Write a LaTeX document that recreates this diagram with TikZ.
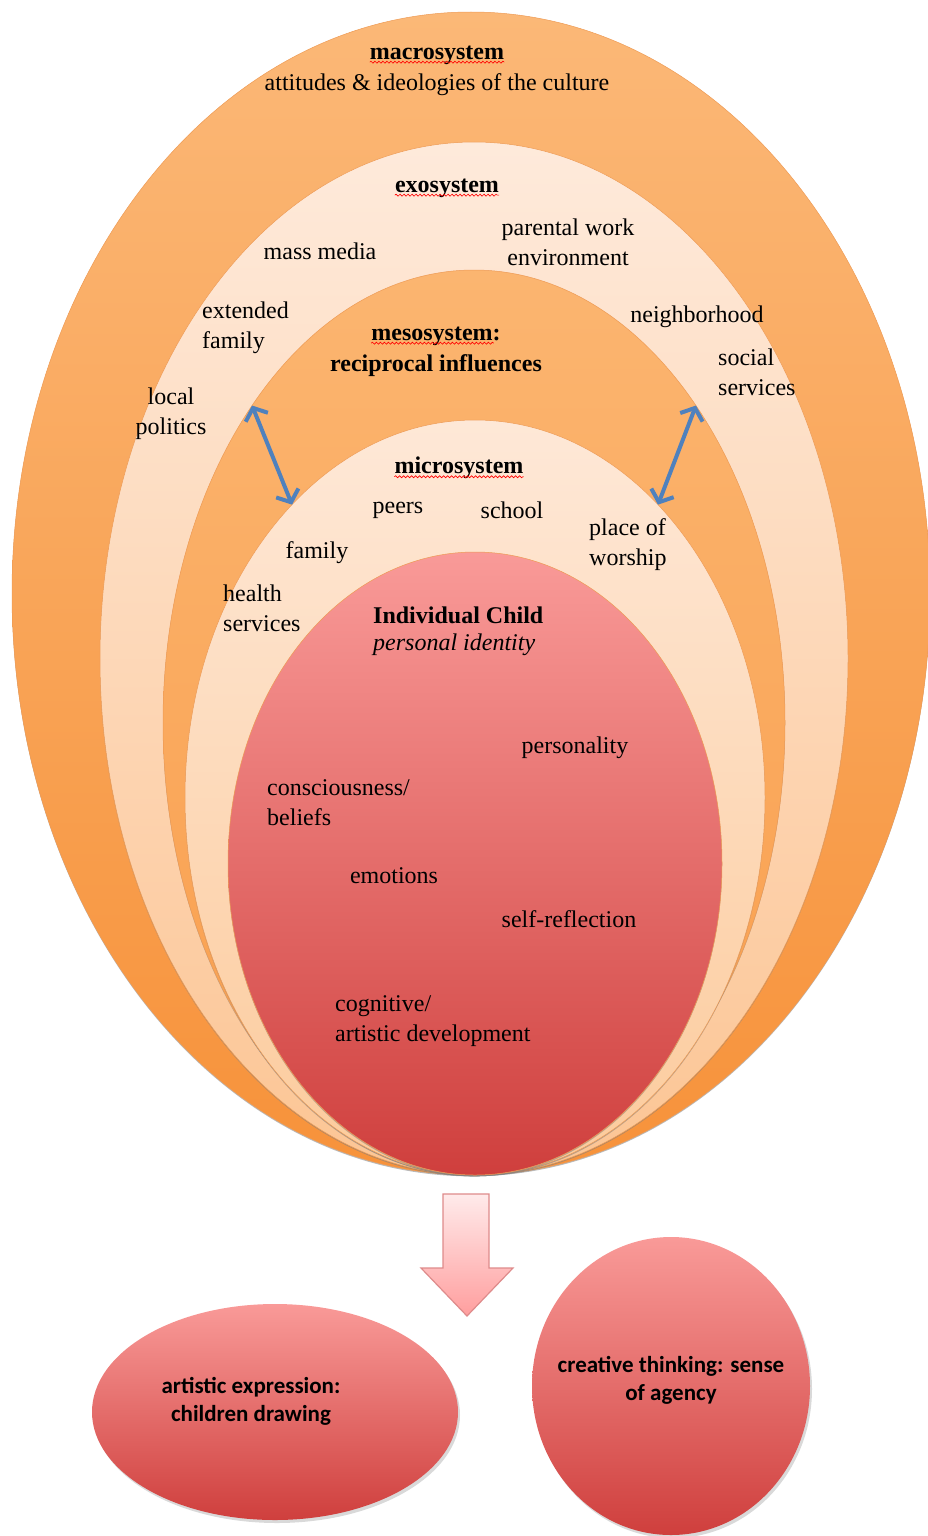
\documentclass[tikz,border=0pt]{standalone}
\usepackage{fontspec}
\setmainfont{Liberation Serif}
\newfontfamily\calib{Carlito}
\usetikzlibrary{shapes.geometric,arrows.meta,shadows,decorations.pathmorphing}
\definecolor{macroTop}{HTML}{FBB877}
\definecolor{macroBot}{HTML}{F7923A}
\definecolor{exoTop}{HTML}{FEEADB}
\definecolor{exoBot}{HTML}{FCC594}
\definecolor{mesoTop}{HTML}{FBB570}
\definecolor{mesoBot}{HTML}{F99E4C}
\definecolor{microTop}{HTML}{FEE8D7}
\definecolor{microBot}{HTML}{FCCB9C}
\definecolor{childTop}{HTML}{F99A98}
\definecolor{childBot}{HTML}{CF3F3D}
\definecolor{bandEdge}{HTML}{EE9B55}
\definecolor{linkBlue}{HTML}{4F81BD}
\definecolor{flowEdge}{HTML}{DE8B8B}
\begin{document}
\begin{tikzpicture}[x=1pt,y=-1pt,
        band/.style={ellipse,draw=bandEdge,line width=0.5pt,inner sep=0pt,outer sep=0pt,
          drop shadow={shadow xshift=0pt,shadow yshift=-1.3pt,opacity=0.55}},
        lbl/.style={font=\fontsize{24}{30}\selectfont,inner sep=0pt},
        bold/.style={lbl,font=\fontsize{24}{30}\selectfont\bfseries},
        spell/.style={red,line width=0.6pt,decorate,
          decoration={snake,amplitude=1pt,segment length=4pt}},
        link/.style={linkBlue,line width=4pt,{Straight Barb[length=10pt,width=24pt]}-{Straight Barb[length=10pt,width=24pt]}},
        outcome/.style={ellipse,inner sep=0pt,top color=childTop,bottom color=childBot,
          drop shadow={shadow xshift=2pt,shadow yshift=-3pt,opacity=0.3}},
        outtext/.style={font=\calib\fontsize{23}{28}\selectfont\bfseries,align=center,inner sep=0pt},
        flow/.style={draw=flowEdge,line width=1.2pt,top color=red!8,bottom color=red!38!white}]
      \useasboundingbox (0,0) rectangle (928,1536);
      \node (macro) at (471,593.5) [band,minimum width=918pt,minimum height=1163pt,top color=macroTop,bottom color=macroBot] {};
      \node (exo) at (474,658.5) [band,minimum width=748pt,minimum height=1033pt,top color=exoTop,bottom color=exoBot] {};
      \node (meso) at (474,722.5) [band,minimum width=622pt,minimum height=905pt,top color=mesoTop,bottom color=mesoBot] {};
      \node (micro) at (475,797.5) [band,minimum width=580pt,minimum height=755pt,top color=microTop,bottom color=microBot] {};
      \node (child) at (475,863.5) [band,minimum width=494pt,minimum height=623pt,top color=childTop,bottom color=childBot] {};
      \node (macroH) at (437,55) [bold] {macrosystem};
      \node (macroS) at (437,85) [lbl] {attitudes \& ideologies of the culture};
      \node (exoH) at (447,188) [bold] {exosystem};
      \node (work) at (568,242) [lbl,align=center] {parental work\\environment};
      \node (media) at (320,251) [lbl] {mass media};
      \node (extfam) at (202,328) [lbl,align=left,anchor=west] {extended\\family};
      \node (politics) at (171,414) [lbl,align=center] {local\\politics};
      \node (neigh) at (697,317) [lbl] {neighborhood};
      \node (social) at (718,372) [lbl,align=left,anchor=west] {social\\services};
      \node (mesoH) at (436,336) [bold] {mesosystem:};
      \node (mesoS) at (436,366) [bold] {reciprocal influences};
      \node (microH) at (459,468) [bold] {microsystem};
      \node (peers) at (398,510) [lbl] {peers};
      \node (school) at (512,510) [lbl] {school};
      \node (worship) at (589,545) [lbl,align=left,anchor=west] {place of\\worship};
      \node (family) at (317,553) [lbl] {family};
      \node (health) at (223,608) [lbl,align=left,anchor=west] {health\\services};
      \node (childH) at (373,615) [bold,anchor=west] {Individual Child};
      \node (childS) at (373,645) [lbl,anchor=west] {\itshape personal identity};
      \node (pers) at (575,748) [lbl] {personality};
      \node (belief) at (267,803) [lbl,align=left,anchor=west] {consciousness/\\beliefs};
      \node (emo) at (394,876) [lbl] {emotions};
      \node (selfref) at (569,919) [lbl] {self-reflection};
      \node (cogn) at (335,1021) [lbl,align=left,anchor=west] {cognitive/\\artistic development};
      \draw[spell] ([yshift=-3pt]macroH.base west) -- ([yshift=-3pt]macroH.base east);
      \draw[spell] ([yshift=-3pt]exoH.base west) -- ([yshift=-3pt]exoH.base east);
      \draw[spell] ([yshift=-3pt]mesoH.base west) -- ([xshift=-7pt,yshift=-3pt]mesoH.base east);
      \draw[spell] ([yshift=-3pt]microH.base west) -- ([yshift=-3pt]microH.base east);
      \draw[link] (meso.125) -- (micro.122);
      \draw[link] (meso.55) -- (micro.58);
      \draw[flow] (443,1194) -- (489,1194) -- (489,1268) -- (513,1268) -- (467,1316)
        -- (421,1268) -- (443,1268) -- cycle;
      \node (artexpr) at (275,1412) [outcome,minimum width=366pt,minimum height=216pt] {};
      \node (creative) at (671,1386) [outcome,minimum width=278pt,minimum height=298pt] {};
      \node (arttext) at (251,1401) [outtext] {artistic expression:\\children drawing};
      \node (cretext) at (671,1380) [outtext] {creative thinking: sense\\of agency};
\end{tikzpicture}
\end{document}
